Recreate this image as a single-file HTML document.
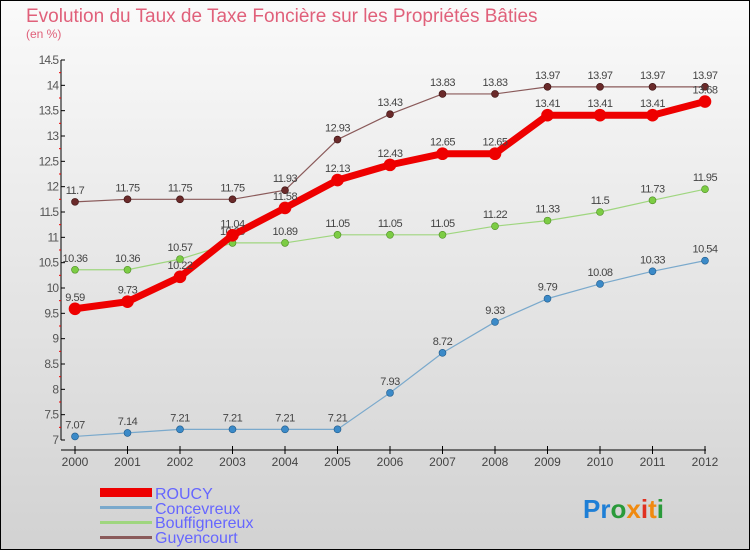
<!DOCTYPE html>
<html><head><meta charset="utf-8"><style>
body{margin:0}
#c{width:750px;height:550px;position:relative;box-sizing:border-box;border:1px solid #000;background:linear-gradient(#fafafa,#d2d2d2);font-family:"Liberation Sans",sans-serif;overflow:hidden}
</style></head><body>
<div id="c">
<svg id="s" width="750" height="550" style="position:absolute;left:-1px;top:-1px">
<text x="26" y="22" font-size="19" fill="#e0607a">Evolution du Taux de Taxe Foncière sur les Propriétés Bâties</text>
<text x="26" y="38" font-size="12" fill="#e0607a">(en %)</text>
<g id="axes"></g><g id="series"></g>
<g>
<rect x="100" y="488" width="52" height="9" fill="#e00"/>
<text x="155" y="499" font-size="16" fill="#66f">ROUCY</text>
<rect x="100" y="506" width="52" height="3" fill="#7aa9cc"/>
<text x="155" y="514" font-size="16" fill="#66f">Concevreux</text>
<rect x="100" y="521" width="52" height="3" fill="#9fd67f"/>
<text x="155" y="528" font-size="16" fill="#66f">Bouffignereux</text>
<rect x="100" y="536" width="52" height="3" fill="#8a5a5a"/>
<text x="155" y="543" font-size="16" fill="#66f">Guyencourt</text>
</g>
<text x="583" y="518" font-size="26" font-weight="bold"><tspan fill="#1e7fd6">Pr</tspan><tspan fill="#2a9a3a">o</tspan><tspan fill="#f08a10">x</tspan><tspan fill="#e03020">i</tspan><tspan fill="#f08a10">t</tspan><tspan fill="#2a9a3a">i</tspan></text>
</svg>
</div>
<script>
const years=[2000,2001,2002,2003,2004,2005,2006,2007,2008,2009,2010,2011,2012];
const roucy=[9.59,9.73,10.22,11.04,11.58,12.13,12.43,12.65,12.65,13.41,13.41,13.41,13.68];
const concevreux=[7.07,7.14,7.21,7.21,7.21,7.21,7.93,8.72,9.33,9.79,10.08,10.33,10.54];
const bouffignereux=[10.36,10.36,10.57,10.89,10.89,11.05,11.05,11.05,11.22,11.33,11.5,11.73,11.95];
const guyencourt=[11.7,11.75,11.75,11.75,11.93,12.93,13.43,13.83,13.83,13.97,13.97,13.97,13.97];
const yTicks=[7,7.5,8,8.5,9,9.5,10,10.5,11,11.5,12,12.5,13,13.5,14,14.5];
const NS="http://www.w3.org/2000/svg";
const X=i=>75+i*(705-75)/(years.length-1);
const Y=v=>440-(v-7)*(380/7.5);
function mk(t,a,p){const e=document.createElementNS(NS,t);for(const k in a)e.setAttribute(k,a[k]);p.appendChild(e);return e;}
const ax=document.getElementById('axes'),sg=document.getElementById('series');
let yl=mk('line',{x1:61,y1:60,x2:61,y2:440,stroke:'#000'},ax);


let xl=mk('line',{x1:61,y1:450,x2:706,y2:450,stroke:'#000'},ax);


yTicks.forEach(v=>{
 mk('line',{x1:61,x2:65,y1:Y(v),y2:Y(v),stroke:'#000'},ax);
 if(v<14.5)mk('line',{x1:59,x2:61,y1:Y(v+0.25),y2:Y(v+0.25),stroke:'#e00'},ax);
 const t=mk('text',{x:58,y:Y(v)+4,'text-anchor':'end','font-size':12,fill:'#555','letter-spacing':'-1'},ax);
 t.textContent=String(v);
 
 
});
years.forEach((y,i)=>{
 mk('line',{x1:X(i),x2:X(i),y1:446,y2:454,stroke:'#000'},ax);
 const t=mk('text',{x:X(i),y:466,'text-anchor':'middle','font-size':12,fill:'#444'},ax);
 t.textContent=y;
 
 
});
function draw(name,data,color,w,r,dot,stroke){
 const g=mk('g',{},sg);
 
 
 const pl=mk('polyline',{points:data.map((v,i)=>X(i)+','+Y(v)).join(' '),fill:'none',stroke:color,'stroke-width':w,'stroke-linejoin':'round'},g);
 
 
 data.forEach((v,i)=>{
  const c=mk('circle',{cx:X(i),cy:Y(v),r:r,fill:dot,stroke:stroke,'stroke-width':0.6},g);
  
  
  const t=mk('text',{x:X(i),y:Y(v)-8,'text-anchor':'middle','font-size':11,fill:'#444','letter-spacing':'-0.5'},g);
  t.textContent=String(v);
  
  
 });
}
draw('guyencourt',guyencourt,'#8a5a5a',1.2,3.5,'#6a2a2a','#3a1010');
draw('bouffignereux',bouffignereux,'#9fd67f',1.2,3.5,'#7ccc44','#4a8a20');
draw('concevreux',concevreux,'#7aa9cc',1.2,3.5,'#3b8ac8','#1f5a8a');
draw('roucy',roucy,'#ee0000',7,6,'#ee0000','#ee0000');
</script>
</body></html>
